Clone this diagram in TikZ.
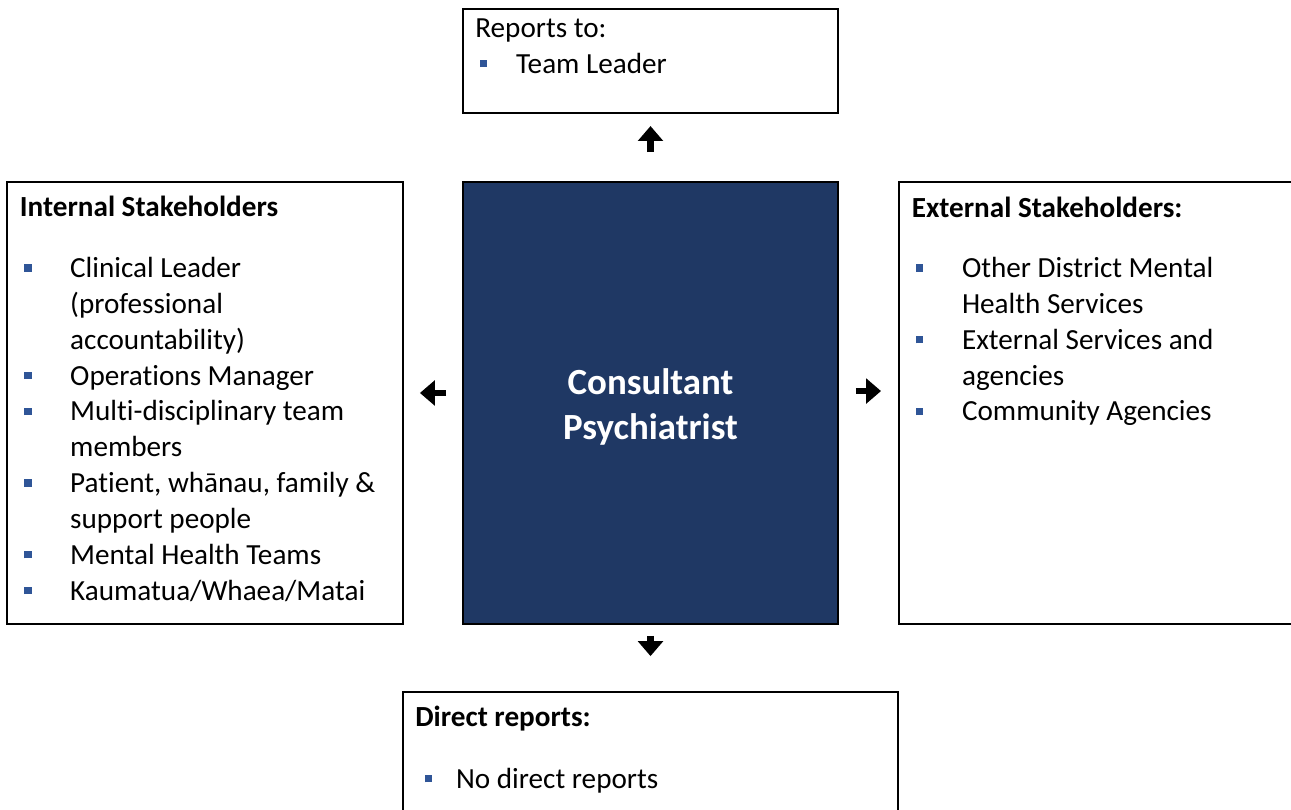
\documentclass[tikz,border=0pt]{standalone}
\usepackage{fontspec}
\setmainfont{Carlito}[Ligatures={NoCommon}]
\usetikzlibrary{arrows.meta}

\definecolor{navy}{HTML}{1F3864}
\definecolor{bulletblue}{HTML}{2F5597}
\newcommand{\bul}{\textcolor{bulletblue}{\rule[3.4pt]{4.1pt}{4.1pt}}}
\newcommand{\bodyfont}{\fontsize{16.6pt}{20.4pt}\selectfont}

\tikzset{
  box/.style={draw, line width=1.2pt, minimum height=8.84cm, inner sep=0pt},
  txt/.style={anchor=base west, inner sep=0pt, font=\bodyfont},
  arr/.style={line width=3.8pt, -{Triangle[width=14pt,length=8.5pt]}},
}

\begin{document}
\begin{tikzpicture}[x=0.02cm, y=-0.02cm, node distance=2cm]
\useasboundingbox (0,0) rectangle (1291,810);

\node (cp) [box, fill=navy, minimum width=7.5cm] at (650.5,403) {};
\node (cpt) [text=white, align=center, inner sep=0pt, font=\bfseries\fontsize{21pt}{26pt}\selectfont]
  at ([yshift=-2.3pt]cp.center) {Consultant\\Psychiatrist};
\node (rep) [box, above of=cp, node distance=6.84cm, minimum width=7.5cm, minimum height=2.08cm] {};
\node (int) [box, left of=cp, node distance=8.91cm, minimum width=7.92cm] {};
\node (ext) [box, right of=cp, node distance=9.18cm, minimum width=8.42cm] {};
\node (dr) [box, below of=cp, node distance=7.26cm, minimum width=9.9cm, minimum height=2.96cm] {};

\node (reph) [txt] at ([xshift=7.4pt, yshift=-16.8pt]rep.north west) {Reports to:};
\node (repl) [txt] at ([xshift=10.2pt, yshift=-37pt]rep.north west)
  {\begin{tabular}[t]{@{}p{20.4pt}@{}l@{}}\bul & Team Leader\end{tabular}};

\node (inth) [txt, font=\bodyfont\bfseries] at ([xshift=7.7pt, yshift=-20.1pt]int.north west) {Internal Stakeholders};
\node (intl) [txt] at ([xshift=10.2pt, yshift=-55pt]int.north west)
  {\begin{tabular}[t]{@{}p{26.1pt}@{}l@{}}
  \bul & Clinical Leader\\
       & (professional\\
       & accountability)\\
  \bul & Operations Manager\\
  \bul & Multi-disciplinary team\\
       & members\\
  \bul & Patient, whānau, family \&\\
       & support people\\
  \bul & Mental Health Teams\\
  \bul & Kaumatua/Whaea/Matai
  \end{tabular}};

\node (exth) [txt, font=\bodyfont\bfseries] at ([xshift=7.7pt, yshift=-20.6pt]ext.north west) {External Stakeholders:};
\node (extl) [txt] at ([xshift=10.2pt, yshift=-55pt]ext.north west)
  {\begin{tabular}[t]{@{}p{26.1pt}@{}l@{}}
  \bul & Other District Mental\\
       & Health Services\\
  \bul & External Services and\\
       & agencies\\
  \bul & Community Agencies
  \end{tabular}};

\node (drh) [txt, font=\bodyfont\bfseries] at ([xshift=7.4pt, yshift=-20.4pt]dr.north west) {Direct reports:};
\node (drl) [txt] at ([xshift=13pt, yshift=-55.5pt]dr.north west)
  {\begin{tabular}[t]{@{}p{17.6pt}@{}l@{}}\bul & No direct reports\end{tabular}};

\draw[arr, shorten <=16.4pt, shorten >=6.8pt] (cp.north) -- (rep.south);
\draw[arr, shorten <=6.2pt, shorten >=19.8pt] (cp.south) -- (dr.north);
\draw[arr, shorten <=9pt, shorten >=9pt] ([yshift=5.7pt]cp.west) -- ([yshift=5.7pt]int.east);
\draw[arr, shorten <=9.6pt, shorten >=9.6pt] ([yshift=6.8pt]cp.east) -- ([yshift=6.8pt]ext.west);
\end{tikzpicture}
\end{document}
